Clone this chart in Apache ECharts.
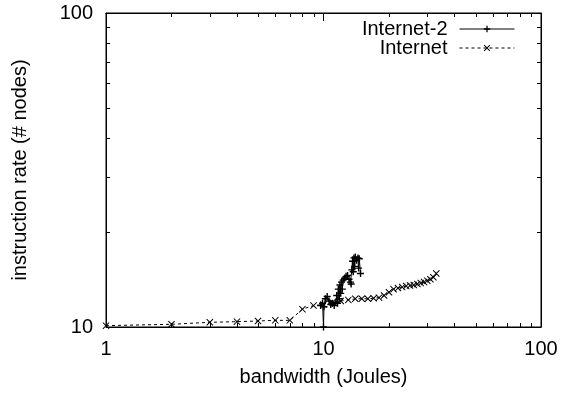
<!DOCTYPE html>
<html>
<head>
<meta charset="utf-8">
<script src="https://cdn.jsdelivr.net/npm/echarts@6/dist/echarts.min.js"></script>
<style>
  html, body { margin: 0; padding: 0; background: #fff; }
  #chart { width: 568px; height: 395px; }
</style>
</head>
<body>
<div id="chart"></div>
<script>
// Internet-2: jagged run between ~10 and ~15 Joules
const net2X = [9.7, 9.9, 10.0, 10.05, 10.2, 10.4, 10.6, 10.8, 11.0, 11.2, 11.4, 11.5, 11.6, 11.7, 11.8, 11.9,
  12.0, 12.1, 12.2, 12.3, 12.5, 12.7, 12.9, 13.1, 13.3, 13.4, 13.5, 13.6, 13.7, 13.8, 13.9, 14.0,
  14.2, 14.4, 14.5, 14.6, 14.8]
const net2Y = [11.7, 11.9, 10.0, 11.6, 12.3, 12.5, 12.1, 11.8, 11.9, 11.7, 12.0, 12.6, 11.9, 13.2, 12.3, 13.6,
  12.8, 13.9, 13.2, 14.1, 14.3, 14.5, 14.6, 14.2, 13.9, 13.7, 15.2, 16.2, 15.0, 16.6, 15.6, 16.7,
  16.3, 16.6, 15.4, 16.5, 14.8]

// Internet: one point per Joule, 1..33
const netX = [1, 2, 3, 4, 5, 6, 7, 8, 9, 10, 11, 12, 13, 14, 15, 16, 17, 18, 19, 20, 21, 22, 23, 24, 25, 26,
  27, 28, 29, 30, 31, 32, 33]
const netY = [10.1, 10.2, 10.35, 10.4, 10.45, 10.5, 10.5, 11.4, 11.7, 11.8, 12.0, 12.1, 12.2, 12.3, 12.3, 12.3,
  12.35, 12.4, 12.6, 12.9, 13.2, 13.3, 13.4, 13.5, 13.55, 13.6, 13.7, 13.8, 13.9, 14.05, 14.2, 14.4, 14.8]

// minor tick values (log axes)
const xMinorTicks = [2, 3, 4, 5, 6, 7, 8, 9, 20, 30, 40, 50, 60, 70, 80, 90]
const yMinorTicks = [20, 30, 40, 50, 60, 70, 80, 90]

const FONT = '"Liberation Sans", Arial, Helvetica, sans-serif'
const FS = 20
const PLUS = 'path://M0,4L10,4L10,6L0,6Z M4,0L6,0L6,10L4,10Z'
const CROSS = 'path://M0,1L1,0L5,4L9,0L10,1L6,5L10,9L9,10L5,6L1,10L0,9L4,5Z'

const chart = echarts.init(document.getElementById('chart'))

function tickLine(x1, y1, x2, y2) {
  return { type: 'line', shape: { x1, y1, x2, y2 }, style: { stroke: '#000', lineWidth: 1 } }
}

function renderXMinor(params, api) {
  const cs = params.coordSys
  const x = Math.round(api.coord([api.value(0), 10])[0]) + 0.5
  const b = cs.y + cs.height
  return { type: 'group', children: [tickLine(x, b, x, b - 4), tickLine(x, cs.y, x, cs.y + 4)] }
}

function renderYMinor(params, api) {
  const cs = params.coordSys
  const y = Math.round(api.coord([1, api.value(1)])[1]) + 0.5
  const r = cs.x + cs.width
  return { type: 'group', children: [tickLine(cs.x, y, cs.x + 4, y), tickLine(r, y, r - 4, y)] }
}

const axisCommon = {
  type: 'log',
  logBase: 10,
  splitLine: { show: false },
  axisLine: { show: true, lineStyle: { color: '#000', width: 1 } },
  axisTick: { show: true, inside: true, length: 8, lineStyle: { color: '#000' } },
  axisLabel: { color: '#000', fontSize: FS, fontFamily: FONT }
}

function legendFor(name, top) {
  return {
    data: [name],
    right: 53,
    top: top,
    padding: 0,
    align: 'right',
    itemWidth: 55,
    itemHeight: 8,
    lineStyle: { width: 1 },
    textStyle: { color: '#000', fontSize: FS, fontFamily: FONT, padding: [0, 7, 0, 0] }
  }
}

chart.setOption({
  animation: false,
  backgroundColor: '#fff',
  grid: {
    left: 106, right: 27, top: 13, bottom: 68,
    show: true, borderColor: '#000', borderWidth: 1,
    outerBoundsMode: 'none'
  },
  legend: [legendFor('Internet-2', 19), legendFor('Internet', 38)],
  xAxis: [
    {
      ...axisCommon, min: 1, max: 100, splitNumber: 2,
      axisLabel: { ...axisCommon.axisLabel, margin: 12 },
      name: 'bandwidth (Joules)', nameLocation: 'middle', nameGap: 40,
      nameTextStyle: { color: '#000', fontSize: FS, fontFamily: FONT }
    },
    {
      ...axisCommon, min: 1, max: 100, splitNumber: 2, position: 'top',
      axisLabel: { show: false }
    }
  ],
  yAxis: [
    {
      ...axisCommon, min: 10, max: 100, splitNumber: 1,
      axisLabel: { ...axisCommon.axisLabel, margin: 13 },
      name: 'instruction rate (# nodes)', nameLocation: 'middle', nameGap: 76,
      nameTextStyle: { color: '#000', fontSize: FS, fontFamily: FONT }
    },
    {
      ...axisCommon, min: 10, max: 100, splitNumber: 1, position: 'right',
      axisLabel: { show: false }
    }
  ],
  series: [
    {
      name: 'Internet-2',
      type: 'line',
      data: net2X.map((x, i) => [x, net2Y[i]]),
      symbol: PLUS,
      symbolSize: 7,
      showSymbol: true,
      itemStyle: { color: '#000' },
      lineStyle: { color: '#000', width: 1 },
      z: 4
    },
    {
      name: 'Internet',
      type: 'line',
      data: netX.map((x, i) => [x, netY[i]]),
      symbol: CROSS,
      symbolSize: 7,
      showSymbol: true,
      itemStyle: { color: '#000' },
      lineStyle: { color: '#000', width: 1, type: [3, 3] },
      z: 3
    },
    {
      type: 'custom',
      renderItem: renderXMinor,
      data: xMinorTicks.map(v => [v, 10]),
      silent: true,
      z: 1
    },
    {
      type: 'custom',
      renderItem: renderYMinor,
      data: yMinorTicks.map(v => [1, v]),
      silent: true,
      z: 1
    }
  ]
})
</script>
</body>
</html>
